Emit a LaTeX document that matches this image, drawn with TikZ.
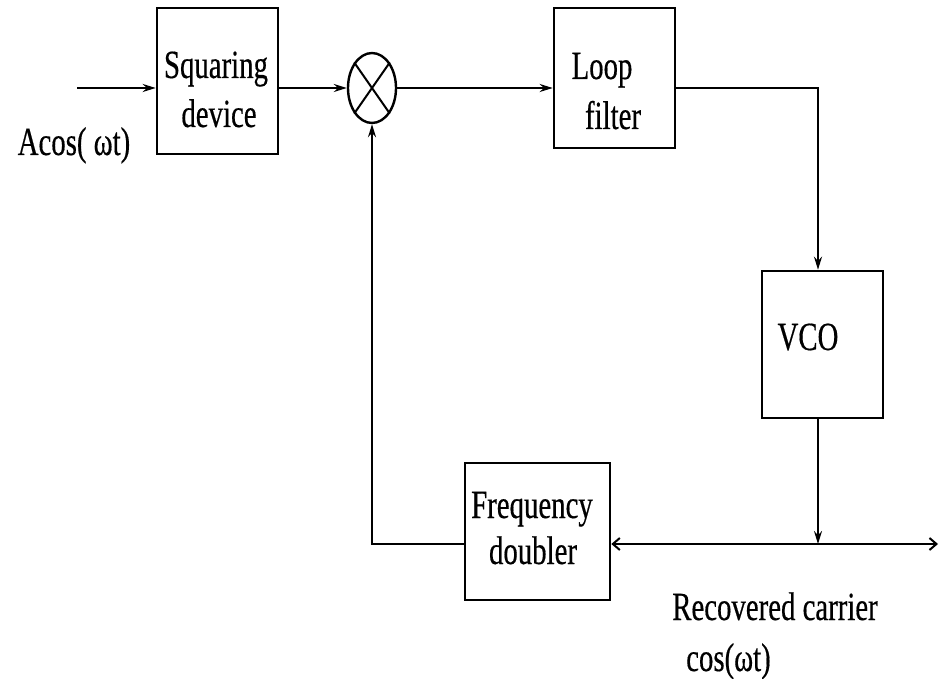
\documentclass[tikz,border=0pt]{standalone}
\usepackage{fontspec}
\setmainfont{Liberation Serif}[FakeStretch=0.72,FakeBold=0.4]
\usetikzlibrary{arrows.meta,shapes.geometric,calc}
\begin{document}
\begin{tikzpicture}[x=1pt,y=-1pt,
  blk/.style={draw,line width=2.6pt,rectangle,inner sep=0pt},
  txt/.style={inner sep=0pt,font=\fontsize{40}{49}\selectfont,anchor=base},
  conn/.style={line width=2pt},
  arr/.style={conn,-{Stealth[length=13pt,width=8pt]}},
  barb/.style={conn,{Straight Barb[length=7pt,width=12pt,line width=2pt]}-{Straight Barb[length=7pt,width=12pt,line width=2pt]}}]
\useasboundingbox[fill=white] (0,0) rectangle (940,679);

% blocks
\node[blk,minimum width=121pt,minimum height=146pt] (sq) at (217.5,81) {};
\node[draw,line width=2.4pt,ellipse,minimum width=48pt,minimum height=70pt,inner sep=0pt] (mix) at (372,88) {};
\node[blk,minimum width=121pt,minimum height=140pt] (lf) at (614.5,78) {};
\node[blk,minimum width=121pt,minimum height=147pt] (vco) at (822.5,344.5) {};
\node[blk,minimum width=145pt,minimum height=137pt] (fd) at (537.5,531.5) {};

% cross in multiplier
\draw[line width=2pt] (mix.north west) -- (mix.south east);
\draw[line width=2pt] (mix.north east) -- (mix.south west);

% texts
\node[txt] (sq1) at (216,78) {Squaring};
\node[txt] (sq2) at (219,127) {device};
\node[txt] (lf1) at (602,79) {Loop};
\node[txt] (lf2) at (613,129) {filter};
\node[txt] (vco1) at (808,350) {VCO};
\node[txt] (fd1) at (532,518) {Frequency};
\node[txt] (fd2) at (533,564) {doubler};
\node[txt] (inl) at (74,155) {Acos( ωt)};
\node[txt] (rc) at (775,620) {Recovered carrier};
\node[txt,anchor=base west] (cw) at (686,671) {cos(ωt)};

% coordinates
\coordinate (in) at (77,88);
\coordinate (tap) at (818,544);
\coordinate (out) at (938,544);

% connectors
\draw[arr] (in) -- (sq.west |- in);
\draw[arr] (sq.east |- in) -- (mix.west);
\draw[arr] (mix.east) -- (lf.west |- mix.east);
\draw[arr] (lf.east |- mix.east) -| (tap |- vco.north);
\draw[arr] (tap |- vco.south) -- (tap);
\draw[barb] (fd.east |- tap) -- (out);
\draw[arr] (fd.west |- tap) -| (mix.south);
\end{tikzpicture}
\end{document}
